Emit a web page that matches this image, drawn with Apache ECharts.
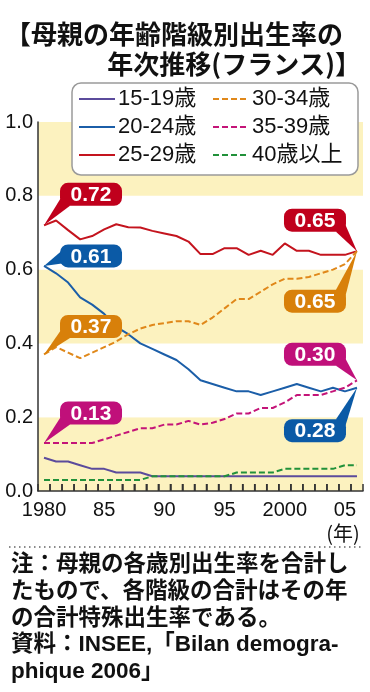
<!DOCTYPE html>
<html><head><meta charset="utf-8">
<script src="https://cdn.jsdelivr.net/npm/echarts@6/dist/echarts.min.js"></script>
<style>html,body{margin:0;padding:0;background:#fff}#c{width:370px;height:692px}</style>
</head><body><div id="c"></div>
<script>
const YEARS = ['1980','1981','1982','1983','1984','1985','1986','1987','1988','1989','1990','1991','1992','1993','1994','1995','1996','1997','1998','1999','2000','2001','2002','2003','2004','2005','2006'];
const TICK_YEARS = ['1980','1985','1990','1995','2000','2005'];
const TICK_TEXT = ['1980','85','90','95','2000','05'];
const SERIES_NAMES = ['15-19歳','20-24歳','25-29歳','30-34歳','35-39歳','40歳以上'];
const AGE_15_19 = [0.09,0.08,0.08,0.07,0.06,0.06,0.05,0.05,0.05,0.04,0.04,0.04,0.04,0.04,0.04,0.04,0.04,0.04,0.04,0.04,0.04,0.04,0.04,0.04,0.04,0.04,0.04];
const AGE_20_24 = [0.61,0.59,0.565,0.525,0.505,0.48,0.445,0.425,0.40,0.385,0.37,0.355,0.33,0.30,0.29,0.28,0.27,0.27,0.26,0.27,0.28,0.29,0.28,0.27,0.28,0.27,0.28];
const AGE_25_29 = [0.72,0.733,0.707,0.682,0.691,0.709,0.723,0.715,0.714,0.705,0.698,0.691,0.676,0.642,0.642,0.658,0.658,0.64,0.651,0.64,0.671,0.651,0.651,0.64,0.64,0.64,0.65];
const AGE_30_34 = [0.37,0.39,0.375,0.36,0.375,0.39,0.405,0.425,0.44,0.45,0.455,0.46,0.46,0.45,0.47,0.495,0.52,0.52,0.54,0.56,0.575,0.575,0.58,0.59,0.60,0.615,0.65];
const AGE_35_39 = [0.13,0.13,0.13,0.13,0.13,0.14,0.15,0.16,0.17,0.17,0.18,0.18,0.19,0.18,0.185,0.195,0.21,0.21,0.225,0.225,0.24,0.26,0.26,0.26,0.27,0.28,0.30];
const AGE_40_UP = [0.03,0.03,0.03,0.03,0.03,0.03,0.03,0.03,0.03,0.04,0.04,0.04,0.04,0.04,0.04,0.04,0.05,0.05,0.05,0.05,0.06,0.06,0.06,0.06,0.06,0.07,0.07];
const Y_TICKS = [0, 0.2, 0.4, 0.6, 0.8, 1.0];
const TITLE_1 = '【母親の年齢階級別出生率の';
const TITLE_2 = '年次推移(フランス)】';
const NOTE = ['注：母親の各歳別出生率を合計し','たもので、各階級の合計はその年','の合計特殊出生率である。','資料：INSEE,「Bilan demogra-','phique 2006」'];

const DATA = [AGE_15_19, AGE_20_24, AGE_25_29, AGE_30_34, AGE_35_39, AGE_40_UP];
const LINE_COLORS = ['#5b4b9c','#1b5ea8','#c4141e','#e0881a','#c41478','#21913a'];
const DASHED = [false,false,false,true,true,true];
const BOX_COLORS = {1:'#0b5aa6', 2:'#c0001c', 3:'#d8800a', 4:'#c0107a'};
const FONT = "'Liberation Sans', Arial, 'Noto Sans CJK JP', sans-serif";

const chart = echarts.init(document.getElementById('c'), null, {renderer:'canvas'});

const series = DATA.map((d, i) => ({
  name: SERIES_NAMES[i], type: 'line', data: d, symbol: 'none', silent: true,
  lineStyle: {color: LINE_COLORS[i], width: 2, type: DASHED[i] ? [6,3] : 'solid'},
  itemStyle: {color: LINE_COLORS[i]}, z: 3
}));

const legendCommon = {
  orient: 'vertical', itemWidth: 36, itemHeight: 14, itemGap: 6, padding: 0,
  selectedMode: false,
  itemStyle: {opacity: 0},
  lineStyle: {width: 2},
  textStyle: {fontSize: 22, fontFamily: FONT, color: '#111', lineHeight: 22, padding: [0,0,0,-2]}
};

chart.setOption({
  animation: false,
  title: [
    {text: TITLE_1, left: 0, top: 16, textStyle: {fontSize: 26, fontWeight: 'bold', fontFamily: "'Noto Sans CJK JP', sans-serif", color: '#111'}},
    {text: TITLE_2, right: 4, top: 46, textStyle: {fontSize: 26, fontWeight: 'bold', fontFamily: "'Noto Sans CJK JP', sans-serif", color: '#111'}}
  ],
  legend: [
    Object.assign({}, legendCommon, {left: 78, top: 88, data: SERIES_NAMES.slice(0,3)}),
    Object.assign({}, legendCommon, {left: 212, top: 88, data: SERIES_NAMES.slice(3)})
  ],
  grid: {left: 38, right: 7, top: 122, bottom: 201, containLabel: false},
  xAxis: {
    type: 'category', data: YEARS, boundaryGap: true, z: 10,
    axisLine: {show: true, onZero: false, lineStyle: {color: '#333', width: 1.5}},
    axisTick: {show: true, inside: true, length: 7, interval: 0, lineStyle: {color: '#333', width: 1.5}},
    axisLabel: {
      interval: 0,
      formatter: v => TICK_YEARS.indexOf(v) >= 0 ? TICK_TEXT[TICK_YEARS.indexOf(v)] : '',
      fontSize: 20, fontFamily: FONT, color: '#111', margin: 9
    },
    splitLine: {show: false}
  },
  yAxis: {
    type: 'value', min: 0, max: 1, interval: 0.2, z: 0,
    axisLine: {show: true, lineStyle: {color: '#333', width: 1.5}},
    axisTick: {show: false},
    axisLabel: {formatter: v => Y_TICKS.indexOf(v) >= 0 ? v.toFixed(1) : '', fontSize: 20, fontFamily: FONT, color: '#111', margin: 5},
    splitLine: {show: false},
    splitArea: {show: true, areaStyle: {color: ['#fcf2bf', '#ffffff']}}
  },
  series: series
});

const graphics = [];
// year tick marks at category band boundaries, positioned from the series' own scale
for (let i = 0; i < YEARS.length - 1; i++) {
  const a = chart.convertToPixel({seriesIndex: 0}, [i, 0]);
  const b = chart.convertToPixel({seriesIndex: 0}, [i + 1, 0]);
  if (!a || !b) continue;
  const xb = (a[0] + b[0]) / 2;
  graphics.push({type: 'rect', z: 30, silent: true, shape: {x: xb - 0.75, y: a[1] - 7, width: 1.5, height: 7}, style: {fill: '#333'}});
}

// Callouts: [seriesIndex, useLast, boxCenterDx, boxCenterDy, tail side]
const CALLOUTS = [
  [2, false, 47, -31, 'bl'],
  [1, false, 47, -10, 'l'],
  [3, false, 47, -28, 'bl'],
  [4, false, 47, -30, 'bl'],
  [2, true, -42, -31, 'br'],
  [3, true, -42, 50, 'tr'],
  [4, true, -42, -26, 'br'],
  [1, true, -42, 43, 'tr']
];
const BW = 62, BH = 23;
CALLOUTS.forEach(([si, last, dx, dy, side]) => {
  const arr = DATA[si];
  const idx = last ? arr.length - 1 : 0;
  const p = chart.convertToPixel({seriesIndex: si}, [idx, arr[idx]]);
  const cx = p[0] + dx, cy = p[1] + dy;
  const L = cx - BW/2, R = cx + BW/2, T = cy - BH/2, B = cy + BH/2;
  let base;
  if (side === 'bl') base = [[L+1, B-8], [L+10, B]];
  else if (side === 'l') base = [[L+2, T+6], [L+9, B-5]];
  else if (side === 'br') base = [[R-10, B], [R-1, B-8]];
  else base = [[R-10, T], [R-1, T+8]];
  const color = BOX_COLORS[si];
  graphics.push({type: 'polygon', z: 20, silent: true, shape: {points: [p, base[0], base[1]]}, style: {fill: color}});
  graphics.push({type: 'rect', z: 21, silent: true, shape: {x: L, y: T, width: BW, height: BH, r: 8}, style: {fill: color}});
  graphics.push({type: 'text', z: 22, silent: true, x: cx, y: cy + 1, style: {text: arr[idx].toFixed(2), fill: '#fff', font: "bold 21px " + FONT, textAlign: 'center', textVerticalAlign: 'middle'}});
});
// legend frame
graphics.push({type: 'rect', z: 1, silent: true, shape: {x: 72, y: 83, width: 286, height: 92, r: 9}, style: {fill: '#fff', stroke: '#9a9a9a', lineWidth: 1.5}});
// year unit
graphics.push({type: 'text', silent: true, x: 343, y: 533, style: {text: '(年)', fill: '#111', font: "20px 'Noto Sans CJK JP', sans-serif", textAlign: 'center', textVerticalAlign: 'middle'}});
// separator
graphics.push({type: 'line', silent: true, shape: {x1: 9, y1: 547, x2: 362, y2: 547}, style: {stroke: '#8a8a8a', lineWidth: 2, lineDash: [1.5, 3.5]}});
// note
NOTE.forEach((t, i) => {
  graphics.push({type: 'text', silent: true, x: 11, y: 565 + i * 26.7, style: {text: t, fill: '#111', font: "bold 22.5px 'Liberation Sans', 'Noto Sans CJK JP', sans-serif", textAlign: 'left', textVerticalAlign: 'middle'}});
});
chart.setOption({graphic: graphics});
</script></body></html>
